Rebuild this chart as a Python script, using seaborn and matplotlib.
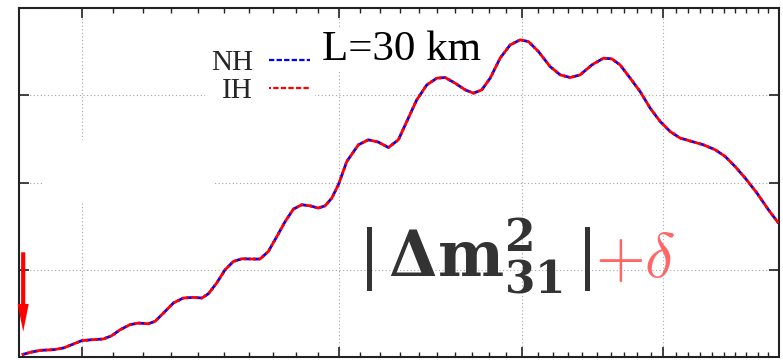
import matplotlib
matplotlib.use("Agg")
import matplotlib.pyplot as plt
import matplotlib.ticker as mticker
from matplotlib.patches import Rectangle
import pandas as pd
import seaborn as sns

# Spectrum at L = 30 km for the two mass orderings
energy = [1.818, 1.842, 1.871, 1.911, 1.941, 1.967, 1.998, 2.030, 2.067, 2.095,
          2.123, 2.156, 2.185, 2.219, 2.243, 2.273, 2.309, 2.345, 2.383, 2.415,
          2.440, 2.472, 2.505, 2.538, 2.572, 2.613, 2.647, 2.682, 2.718, 2.754,
          2.790, 2.827, 2.864, 2.902, 2.933, 2.964, 2.995, 3.035, 3.091, 3.140,
          3.190, 3.241, 3.292, 3.336, 3.389, 3.443, 3.498, 3.544, 3.600, 3.658,
          3.706, 3.755, 3.805, 3.865, 3.927, 3.989, 4.042, 4.106, 4.182, 4.249,
          4.317, 4.385, 4.467, 4.549, 4.610, 4.670, 4.745, 4.820, 4.897, 4.975,
          5.054, 5.134, 5.230, 5.326, 5.426, 5.512, 5.599, 5.689, 5.795, 5.901,
          5.995]
nh_flux = [0.026, 0.053, 0.076, 0.084, 0.103, 0.141, 0.187, 0.198, 0.206, 0.244,
           0.313, 0.370, 0.389, 0.381, 0.408, 0.504, 0.619, 0.676, 0.683, 0.676,
           0.725, 0.848, 1.000, 1.095, 1.126, 1.123, 1.123, 1.210, 1.381, 1.553,
           1.695, 1.745, 1.733, 1.707, 1.733, 1.821, 1.974, 2.241, 2.432, 2.489,
           2.463, 2.401, 2.489, 2.699, 2.947, 3.119, 3.196, 3.203, 3.139, 3.062,
           3.024, 3.062, 3.196, 3.425, 3.577, 3.635, 3.615, 3.501, 3.329, 3.234,
           3.203, 3.234, 3.348, 3.425, 3.417, 3.348, 3.196, 3.042, 2.852, 2.699,
           2.584, 2.509, 2.470, 2.432, 2.375, 2.298, 2.183, 2.050, 1.879, 1.687,
           1.535]
ih_flux = list(nh_flux)

x_major = [2, 3, 4, 5, 6]
x_minor = [v / 10 for v in range(21, 60) if v % 10]
y_major = [0, 1, 2, 3, 4]
x_range = (1.81, 6.0)
y_range = (0, 4)

# arrow marking the low-energy end
arrow_x = 1.822
arrow_from, arrow_to = 1.20, 0.29

sns.set_theme(style="white")
plt.rcParams["font.family"] = ["Liberation Serif", "DejaVu Serif"]
plt.rcParams["mathtext.fontset"] = "custom"
plt.rcParams["mathtext.rm"] = "DejaVu Serif"
plt.rcParams["mathtext.it"] = "DejaVu Serif:italic"
plt.rcParams["mathtext.bf"] = "DejaVu Serif:bold"

fig = plt.figure(figsize=(7.83, 3.6), dpi=100)
ax = fig.add_axes([19 / 783, 3 / 360, 760 / 783, 349 / 360])
ax.set_xscale("log")

df = pd.DataFrame({"E": energy, "NH": nh_flux, "IH": ih_flux})
sns.lineplot(data=df, x="E", y="NH", ax=ax, color="#0000ff", lw=2.0,
             linestyle=(0, (2.4, 1.0)), label="NH", zorder=3)
sns.lineplot(data=df, x="E", y="IH", ax=ax, color="#ff0000", lw=2.0,
             linestyle=(1.5, (2.4, 1.0)), label="IH", zorder=4)

ax.set_xlim(*x_range)
ax.set_ylim(*y_range)
ax.xaxis.set_major_locator(mticker.FixedLocator(x_major))
ax.xaxis.set_minor_locator(mticker.FixedLocator(x_minor))
ax.yaxis.set_major_locator(mticker.FixedLocator(y_major))
ax.yaxis.set_minor_locator(mticker.NullLocator())
ax.xaxis.set_major_formatter(mticker.NullFormatter())
ax.xaxis.set_minor_formatter(mticker.NullFormatter())
ax.yaxis.set_major_formatter(mticker.NullFormatter())
ax.set_xlabel("")
ax.set_ylabel("")
ax.tick_params(which="both", direction="in", top=True, right=True,
               bottom=True, left=True, color="#222222")
ax.tick_params(which="major", length=7.5, width=1.2)
ax.tick_params(which="minor", length=3.8, width=1.0)
for sp in ax.spines.values():
    sp.set_color("#222222")
    sp.set_linewidth(1.5)

ax.grid(True, which="major", color="#a8a8a8", linestyle=(0, (1, 2.2)),
        linewidth=0.8, zorder=0)
ax.set_axisbelow(True)

# opaque blank label area
ax.add_patch(Rectangle((0.033, 0.444), 0.222, 0.178, transform=ax.transAxes,
                       facecolor="white", edgecolor="none", zorder=1))

leg = ax.legend(loc="upper right", bbox_to_anchor=(0.390, 0.898),
                markerfirst=False, frameon=True, fancybox=False,
                facecolor="white", edgecolor="none", framealpha=1,
                prop={"family": "Liberation Serif", "size": 21},
                handlelength=1.4, handletextpad=0.55, labelspacing=0.05,
                borderpad=0.2, borderaxespad=0)
for line in leg.get_lines():
    line.set_linewidth(1.6)

ax.text(0.503, 0.851, "L=30 km", transform=ax.transAxes, ha="center",
        va="baseline", fontsize=31, color="black",
        bbox=dict(facecolor="white", edgecolor="none", pad=2), zorder=2)

ax.text(0.753, 0.229,
        r"$|\,\mathbf{\Delta m}^{\mathbf{2}}_{\mathbf{31}}\,|$",
        transform=ax.transAxes, ha="right", va="baseline", fontsize=45,
        color="#333333", zorder=5)
ax.text(0.758, 0.229, r"$+\delta$", transform=ax.transAxes, ha="left",
        va="baseline", fontsize=46, color="#ff6666", zorder=5,
        math_fontfamily="cm")

ax.annotate("", xy=(arrow_x, arrow_to), xytext=(arrow_x, arrow_from),
            arrowprops=dict(arrowstyle="simple,head_length=20,head_width=8,tail_width=3",
                            mutation_scale=1, color="#ff0000", lw=0,
                            shrinkA=0, shrinkB=0), zorder=6)

fig.savefig("out.png", dpi=100)
